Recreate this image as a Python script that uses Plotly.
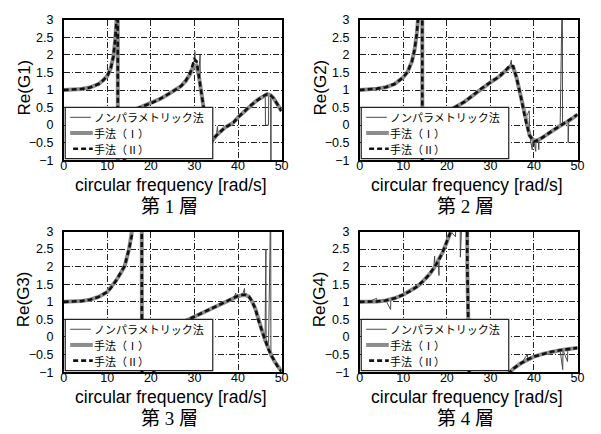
import plotly.graph_objects as go

# ---------------------------------------------------------------- data
# Layer 1: Re(G1)
f1 = [0, 2, 4, 6, 8, 9, 10, 10.8, 11.4, 11.8, 12.1, 12.3, 12.4, 12.45, 13, 13.5, 14, 14.5, 15, 15.7,
      16, 18, 20, 22, 24, 26, 27, 28, 29, 29.6, 30, 30.5, 31, 31.5, 32, 32.3, 32.7, 33.2, 33.7, 34.2,
      35, 36, 37, 38, 39, 40, 41, 42, 43, 44, 45, 46, 46.7, 47.5, 48.2, 49, 49.5, 50]
g1_m2 = [1.0, 1.01, 1.03, 1.07, 1.17, 1.27, 1.4, 1.62, 1.95, 2.4, 2.85, 3.3, 4.5, -4.0, -2.5, -1.6, -0.9, -0.4, 0.0, 0.38,
         0.43, 0.53, 0.62, 0.74, 0.88, 1.03, 1.12, 1.26, 1.48, 1.72, 1.88, 1.82, 1.45, 1.0, 0.6, 0.35, -0.05, -0.45, -0.55, -0.42,
         -0.3, -0.17, -0.07, 0.0, 0.08, 0.22, 0.34, 0.46, 0.57, 0.67, 0.76, 0.84, 0.88, 0.85, 0.76, 0.6, 0.5, 0.4]
g1_m1 = [1.0, 1.01, 1.03, 1.07, 1.17, 1.27, 1.4, 1.62, 1.95, 2.4, 2.85, 3.3, 4.5, -4.0, -2.5, -1.6, -0.9, -0.4, 0.0, 0.38,
         0.43, 0.53, 0.62, 0.74, 0.88, 1.03, 1.12, 1.26, 1.45, 1.62, 1.7, 1.68, 1.42, 1.0, 0.6, 0.35, -0.05, -0.45, -0.55, -0.42,
         -0.3, -0.17, -0.07, 0.0, 0.08, 0.22, 0.34, 0.46, 0.57, 0.67, 0.76, 0.84, 0.88, 0.85, 0.76, 0.6, 0.5, 0.4]
f1_np = [0, 2, 4, 6, 8, 9, 10, 10.8, 11.4, 11.8, 12.1, 12.3, 12.4, 12.45, 13, 13.5, 14, 14.5, 15, 15.7,
         16, 18, 20, 22, 24, 26, 27, 28, 29, 29.6, 30, 30.1, 30.2, 30.5, 31, 31.3, 31.35, 31.5, 32, 32.3,
         32.7, 33.2, 33.7, 34.2, 35, 35.3, 35.35, 36, 37, 38, 39, 40, 41, 42, 43, 44, 45, 46, 46.25,
         46.3, 47.0, 47.05, 47.5, 47.55, 47.6, 48.2, 49, 49.5, 50]
g1_np = [1.0, 1.01, 1.03, 1.07, 1.17, 1.27, 1.4, 1.62, 1.95, 2.4, 2.85, 3.3, 4.5, -4.0, -2.5, -1.6, -0.9, -0.4, 0.0, 0.38,
         0.43, 0.53, 0.62, 0.74, 0.88, 1.03, 1.12, 1.26, 1.48, 1.75, 1.85, 2.1, 1.8, 1.8, 1.5, 2.0, 1.3, 1.0, 0.6, 0.35,
         -0.05, -0.45, -0.55, -0.42, -0.3, -0.04, -0.24, -0.17, -0.07, 0.0, 0.08, 0.22, 0.34, 0.46, 0.57, 0.67, 0.76, 0.84, 0.86,
         0.0, 0.0, 0.87, 0.85, -1.5, 0.84, 0.76, 0.6, 0.5, 0.4]

# Layer 2: Re(G2)
f2 = [0, 2, 4, 6, 8, 10, 11, 12, 12.6, 13.1, 13.4, 13.8, 14.35, 14.4, 15, 16, 17, 18, 19, 20,
      20.5, 22, 24, 26, 28, 30, 32, 33.5, 34.5, 35.2, 36, 37, 38, 39, 40, 41, 42, 44, 46, 48, 50]
g2_m2 = [1.0, 1.01, 1.04, 1.08, 1.17, 1.36, 1.52, 1.82, 2.15, 2.6, 3.0, 3.6, 5.0, -5.0, -3.0, -1.5, -0.6, -0.1, 0.2, 0.36,
         0.41, 0.52, 0.66, 0.85, 1.05, 1.22, 1.38, 1.56, 1.7, 1.68, 1.35, 0.8, 0.18, -0.3, -0.47, -0.42, -0.35, -0.18, -0.02, 0.12, 0.3]
g2_m1 = [1.0, 1.01, 1.04, 1.08, 1.17, 1.36, 1.52, 1.82, 2.15, 2.6, 3.0, 3.6, 5.0, -5.0, -3.0, -1.5, -0.6, -0.1, 0.2, 0.36,
         0.41, 0.52, 0.66, 0.85, 1.05, 1.22, 1.38, 1.55, 1.67, 1.66, 1.35, 0.8, 0.18, -0.3, -0.45, -0.42, -0.35, -0.18, -0.02, 0.12, 0.3]
f2_np = [0, 2, 4, 6, 8, 10, 11, 12, 12.6, 13.1, 13.4, 13.8, 14.35, 14.4, 15, 16, 17, 18, 19, 20,
         20.5, 22, 24, 26, 28, 30, 32, 33.5, 34.5, 34.8, 34.85, 35.2, 36, 37, 38, 38.9, 38.95, 39, 39.6, 39.65,
         40, 40.4, 40.45, 41, 41.1, 41.15, 42, 44, 46, 46.5, 46.55, 47.8, 47.85, 48, 50]
g2_np = [1.0, 1.01, 1.04, 1.08, 1.17, 1.36, 1.52, 1.82, 2.15, 2.6, 3.0, 3.6, 5.0, -5.0, -3.0, -1.5, -0.6, -0.1, 0.2, 0.36,
         0.41, 0.52, 0.66, 0.85, 1.05, 1.22, 1.38, 1.56, 1.7, 1.85, 1.7, 1.68, 1.35, 0.8, 0.18, 0.41, -0.25, -0.3, -0.7, -0.42,
         -0.47, -0.75, -0.45, -0.42, -0.7, -0.4, -0.35, -0.18, -0.02, 4.0, 0.03, 0.13, -0.5, 0.14, 0.3]

# Layer 3: Re(G3)
f3 = [0, 2, 4, 6, 8, 10, 11, 12, 13, 14, 15, 15.9, 16.5, 17.2, 17.9, 18.0, 18.5, 19, 20, 21,
      22, 23, 24, 25, 26, 27, 28, 30, 32, 34, 36, 38, 39, 40, 41, 41.8, 42.5, 43.2, 44, 44.7,
      45.5, 46.2, 47, 47.7, 48.5, 49.2, 50]
g3_m2 = [1.0, 1.0, 1.02, 1.06, 1.14, 1.28, 1.42, 1.6, 1.8, 2.02, 2.5, 3.0, 3.4, 4.2, 5.0, -5.0, -4.0, -2.5, -1.4, -0.8,
         -0.4, -0.15, 0.05, 0.2, 0.31, 0.39, 0.46, 0.58, 0.7, 0.82, 0.95, 1.07, 1.12, 1.17, 1.2, 1.2, 1.15, 1.02, 0.8, 0.47,
         0.18, -0.08, -0.35, -0.54, -0.72, -0.86, -0.98]
g3_m1 = [1.0, 1.0, 1.02, 1.06, 1.14, 1.28, 1.42, 1.6, 1.8, 2.02, 2.5, 3.0, 3.4, 4.2, 5.0, -5.0, -4.0, -2.5, -1.4, -0.8,
         -0.4, -0.15, 0.05, 0.2, 0.31, 0.39, 0.46, 0.58, 0.7, 0.82, 0.95, 1.06, 1.11, 1.16, 1.19, 1.19, 1.15, 1.02, 0.8, 0.47,
         0.18, -0.08, -0.35, -0.54, -0.72, -0.86, -0.98]
f3_np = [0, 2, 4, 6, 8, 10, 11, 12, 13, 14, 15, 15.9, 16.5, 17.2, 17.9, 18.0, 18.5, 19, 20, 21,
         22, 23, 24, 25, 26, 27, 28, 30, 32, 34, 36, 38, 39, 39.5, 39.55, 40, 41, 41.5, 41.55, 41.8,
         42.5, 43.2, 44, 44.7, 45.5, 46.2, 46.4, 46.45, 47, 47.5, 47.55, 47.7, 48.5, 49.2, 50]
g3_np = [1.0, 1.0, 1.02, 1.06, 1.14, 1.28, 1.42, 1.6, 1.8, 2.02, 2.5, 3.0, 3.4, 4.2, 5.0, -5.0, -4.0, -2.5, -1.4, -0.8,
         -0.4, -0.15, 0.05, 0.2, 0.31, 0.39, 0.46, 0.58, 0.7, 0.82, 0.95, 1.07, 1.12, 1.25, 1.14, 1.17, 1.2, 1.38, 1.2, 1.2,
         1.15, 1.02, 0.8, 0.47, 0.18, -0.08, 2.5, -0.18, -0.35, 4.0, -0.5, -0.54, -0.72, -0.86, -0.98]

# Layer 4: Re(G4)
f4 = [0, 2, 4, 6, 8, 10, 12, 13, 14, 15, 16, 17, 18, 19, 20, 20.9, 22, 23, 24, 24.6,
      24.7, 24.9, 25.2, 26, 28, 30, 32, 33, 34, 34.5, 35.5, 37, 38.5, 40, 42, 44, 46, 48, 50]
g4_m2 = [1.0, 1.0, 1.01, 1.04, 1.1, 1.2, 1.33, 1.42, 1.52, 1.64, 1.78, 1.95, 2.15, 2.4, 2.7, 3.0, 3.6, 4.3, 5.0, 5.5,
         2.0, 0.5, -1.5, -3.0, -2.2, -1.7, -1.35, -1.2, -1.06, -1.0, -0.88, -0.75, -0.64, -0.56, -0.48, -0.42, -0.38, -0.34, -0.31]
g4_m1 = [1.0, 1.0, 1.01, 1.04, 1.1, 1.2, 1.33, 1.42, 1.52, 1.64, 1.78, 1.95, 2.15, 2.4, 2.7, 3.0, 3.6, 4.3, 5.0, 5.5,
         2.0, 0.5, -1.5, -3.0, -2.2, -1.7, -1.35, -1.2, -1.06, -1.0, -0.88, -0.75, -0.64, -0.56, -0.48, -0.42, -0.38, -0.34, -0.31]
f4_np = [0, 2, 3.9, 3.95, 4, 6, 7.1, 7.15, 8, 10, 12, 13, 14, 15, 16, 17, 17.2, 17.25, 18, 18.2,
         18.25, 19, 20, 20.9, 22, 22.05, 23, 23.1, 23.15, 24, 24.6, 24.7, 24.9, 25.2, 26, 28, 30, 32, 33, 34,
         34.5, 35.5, 37, 38.5, 38.55, 40, 42, 44, 46, 46.6, 46.65, 47.7, 47.75, 48, 50]
g4_np = [1.0, 1.0, 1.1, 1.0, 1.01, 1.04, 0.78, 1.07, 1.1, 1.2, 1.33, 1.42, 1.52, 1.64, 1.78, 1.95, 2.3, 2.0, 2.15, 1.75,
         2.2, 2.4, 2.7, 3.0, 2.85, 3.7, 4.3, 2.27, 4.4, 5.0, 5.5, 2.0, 0.5, -1.5, -3.0, -2.2, -1.7, -1.35, -1.2, -1.06,
         -1.0, -0.88, -0.75, -0.5, -0.64, -0.56, -0.48, -0.42, -0.38, -0.93, -0.37, -0.7, -0.35, -0.34, -0.31]

series_names = ["ノンパラメトリック法", "手法（Ⅰ）", "手法（Ⅱ）"]
y_titles = ["Re(G1)", "Re(G2)", "Re(G3)", "Re(G4)"]
captions = ["第 1 層", "第 2 層", "第 3 層", "第 4 層"]
x_title = "circular frequency [rad/s]"
x_ticks = [0, 10, 20, 30, 40, 50]
y_ticks = [-1, -0.5, 0, 0.5, 1, 1.5, 2, 2.5, 3]

panels = [
    (f1, g1_m1, g1_m2, f1_np, g1_np),
    (f2, g2_m1, g2_m2, f2_np, g2_np),
    (f3, g3_m1, g3_m2, f3_np, g3_np),
    (f4, g4_m1, g4_m2, f4_np, g4_np),
]

# ---------------------------------------------------------------- layout helpers
W, H = 601, 434


def px_x(p):
    return p / W


def px_y(p):
    return 1 - p / H


# plot-area rectangles in pixels: (left, right, top, bottom)
boxes = [
    (61.7, 283.3, 13.3, 158.3),
    (362.7, 584.3, 13.3, 158.3),
    (61.7, 283.3, 232.0, 377.3),
    (362.7, 584.3, 232.0, 377.3),
]

NP_STYLE = dict(color="#4a4a4a", width=1)
M1_STYLE = dict(color="#8c8c8c", width=4)
M2_STYLE = dict(color="#111111", width=2.6, dash="5px,3px")

TICK_FONT = dict(family="Liberation Sans, Arial, sans-serif", size=12.5, color="black")
TITLE_FONT = dict(family="Liberation Sans, Arial, sans-serif", size=17.5, color="black")
YTITLE_FONT = dict(family="Liberation Sans, Arial, sans-serif", size=17, color="black")
JP_FONT = dict(family="Noto Sans CJK JP, sans-serif", size=11, color="black")
CAP_FONT = dict(family="Liberation Serif, Noto Sans CJK JP, serif", size=19, color="black")

fig = go.Figure()
shapes = []
annotations = []
layout_axes = {}

for i, (f, m1, m2, fnp, gnp) in enumerate(panels):
    n = i + 1
    xa = "x" if n == 1 else f"x{n}"
    ya = "y" if n == 1 else f"y{n}"
    left, right, top, bottom = boxes[i]

    fig.add_trace(go.Scatter(x=fnp, y=gnp, mode="lines", line=NP_STYLE, name=series_names[0],
                             xaxis=xa, yaxis=ya, showlegend=False))
    fig.add_trace(go.Scatter(x=f, y=m1, mode="lines", line=M1_STYLE, name=series_names[1],
                             xaxis=xa, yaxis=ya, showlegend=False))
    fig.add_trace(go.Scatter(x=f, y=m2, mode="lines", line=M2_STYLE, name=series_names[2],
                             xaxis=xa, yaxis=ya, showlegend=False))

    common = dict(showline=True, linecolor="black", linewidth=1.5, mirror=True,
                  showgrid=True, gridcolor="#222222", gridwidth=1, griddash="6px,2px,1px,2px",
                  zeroline=False, ticks="", tickfont=TICK_FONT)
    layout_axes["xaxis" if n == 1 else f"xaxis{n}"] = dict(
        common, domain=[px_x(left), px_x(right)], anchor=ya, range=[0, 50],
        tickvals=x_ticks, ticklabelstandoff=-7)
    layout_axes["yaxis" if n == 1 else f"yaxis{n}"] = dict(
        common, domain=[px_y(bottom), px_y(top)], anchor=xa, range=[-1, 3],
        tickvals=y_ticks, ticklabelstandoff=6)

    # axis titles
    annotations.append(dict(text=x_title, xref="paper", yref="paper", showarrow=False,
                            x=px_x((left + right) / 2 - 1.5), y=px_y(bottom + 25.5),
                            xanchor="center", yanchor="middle", borderpad=0, font=TITLE_FONT))
    annotations.append(dict(text=y_titles[i], xref="paper", yref="paper", showarrow=False,
                            x=px_x(left - 40), y=px_y((top + bottom) / 2 - 3), textangle=-90,
                            xanchor="center", yanchor="middle", font=YTITLE_FONT))

    # legend box inside the lower-left corner of each panel
    lx0, lx1 = left + 1.6, left + 151.6
    ly0, ly1 = bottom - 54.6, bottom - 1.6
    shapes.append(dict(type="rect", xref="paper", yref="paper", layer="above",
                       x0=px_x(lx0), x1=px_x(lx1), y0=px_y(ly1), y1=px_y(ly0),
                       fillcolor="white", line=dict(color="#222222", width=1.2)))
    rows = [ly0 + 10.3, ly0 + 26.5, ly0 + 42.7]
    samples = [(lx0 + 5, lx0 + 26, NP_STYLE), (lx0 + 5, lx0 + 28, M1_STYLE), (lx0 + 8, lx0 + 28, M2_STYLE)]
    for (sx0, sx1, st), ry, label in zip(samples, rows, series_names):
        shapes.append(dict(type="line", xref="paper", yref="paper", layer="above",
                           x0=px_x(sx0), x1=px_x(sx1), y0=px_y(ry), y1=px_y(ry), line=st))
        annotations.append(dict(text=label, xref="paper", yref="paper", showarrow=False,
                                x=px_x(lx0 + 28.5), y=px_y(ry), xanchor="left", yanchor="middle",
                                borderpad=0, font=JP_FONT))

    # caption under each panel
    cap_y = bottom + 48
    annotations.append(dict(text=captions[i], xref="paper", yref="paper", showarrow=False,
                            x=px_x((left + right) / 2 - 3), y=px_y(cap_y),
                            xanchor="center", yanchor="middle", borderpad=0, font=CAP_FONT))

fig.update_layout(
    width=W, height=H,
    margin=dict(l=0, r=0, t=0, b=0),
    paper_bgcolor="white", plot_bgcolor="white",
    showlegend=False,
    shapes=shapes, annotations=annotations,
    **layout_axes,
)

fig.write_html("out.html")
